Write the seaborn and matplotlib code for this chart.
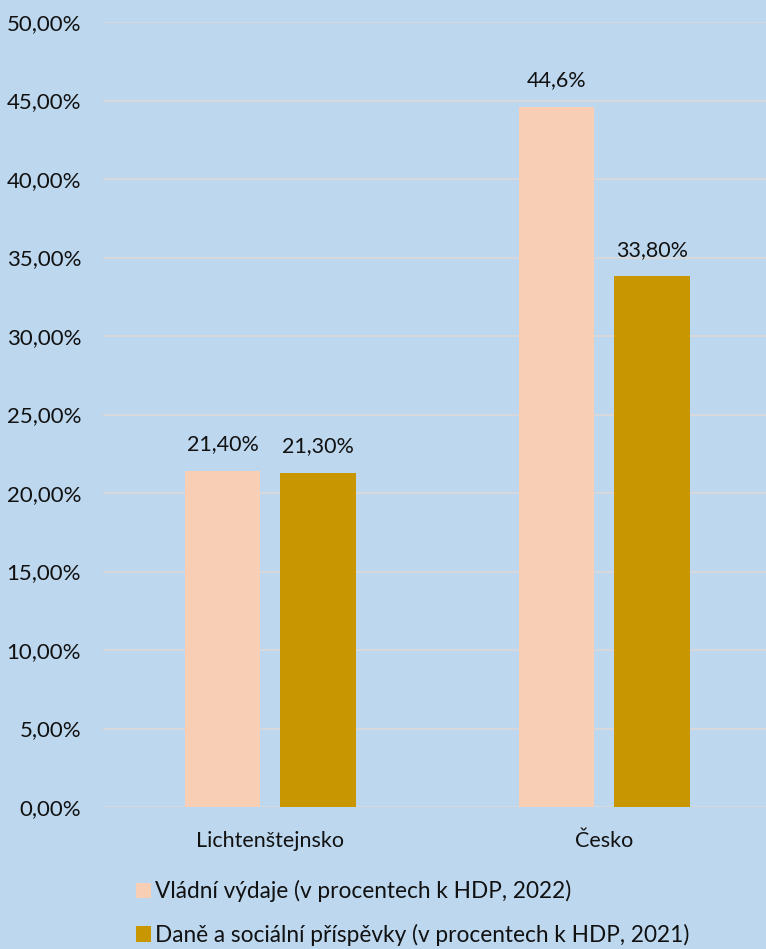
import pandas as pd
import numpy as np
import matplotlib
matplotlib.use("Agg")
import matplotlib.pyplot as plt
import seaborn as sns
from matplotlib.patches import Patch
from matplotlib.ticker import FuncFormatter

# data
countries = ["Lichtenštejnsko", "Česko"]
series_names = ["Vládní výdaje (v procentech k HDP, 2022)",
                "Daně a sociální příspěvky (v procentech k HDP, 2021)"]
spending = [21.4, 44.6]
taxes = [21.3, 33.8]
spending_labels = ["21,40%", "44,6%"]
taxes_labels = ["21,30%", "33,80%"]
colors = ["#F8CFB4", "#C89600"]
bg = "#BDD7EE"

df = pd.DataFrame({
    "country": countries * 2,
    "series": [series_names[0]] * 2 + [series_names[1]] * 2,
    "value": spending + taxes,
})

sns.set_theme(style="white")
plt.rcParams["font.family"] = ["Lato", "DejaVu Sans"]
fs = 15.5

fig = plt.figure(figsize=(7.66, 9.49), dpi=100, facecolor=bg)
ax = fig.add_axes([0.135, 0.1496, 0.872, 0.8272])
ax.set_facecolor(bg)

sns.barplot(data=df, x="country", y="value", hue="series", order=countries,
            hue_order=series_names, palette=colors, width=0.574, gap=0.21,
            saturation=1, legend=False, edgecolor="none", linewidth=0, ax=ax)

for cont, labs in zip(ax.containers, [spending_labels, taxes_labels]):
    ax.bar_label(cont, labels=labs, padding=12, fontsize=fs, color="#111111")

ax.set_ylim(0, 50)
ax.set_xlim(-0.5, 1.5)
ax.set_yticks(np.arange(0, 51, 5))
ax.yaxis.set_major_formatter(FuncFormatter(lambda v, p: f"{v:.2f}".replace(".", ",") + "%"))
ax.grid(axis="y", color="#D9D9D9", linewidth=1.3)
ax.set_axisbelow(True)
for s in ax.spines.values():
    s.set_visible(False)
ax.tick_params(axis="both", length=0, labelsize=fs, colors="#111111")
ax.tick_params(axis="y", labelsize=16, pad=16)
ax.tick_params(axis="x", pad=17)
ax.set_xlabel("")
ax.set_ylabel("")

handles = [Patch(facecolor=c, edgecolor="none") for c in colors]
fig.legend(handles, series_names, loc="upper left", bbox_to_anchor=(0.166, 0.082),
           frameon=False, fontsize=16.3, handlelength=0.65, handleheight=0.65,
           handletextpad=0.2, labelspacing=0.95, borderaxespad=0,
           labelcolor="#111111")

fig.savefig("out.png", dpi=100, facecolor=bg)
